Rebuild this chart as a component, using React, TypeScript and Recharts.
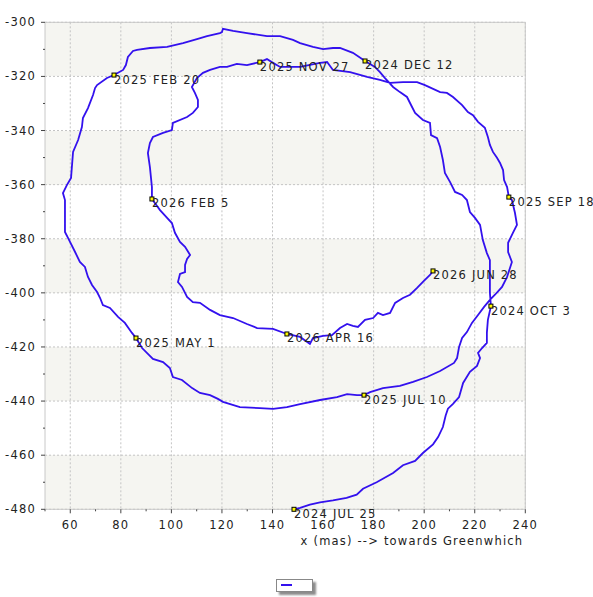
import React from "react";
import {
  CartesianGrid,
  ComposedChart,
  Line,
  ReferenceArea,
  Scatter,
  XAxis,
  YAxis,
} from "recharts";

type Pt = [number, number];

// pole track, one array per marked interval (x mas, -y mas)
const SEG_JUL25_OCT3: Pt[] = [
  [148.5, -480], [150.9, -479.5], [154.8, -478.3], [158.8, -477.4], [163.9, -476.7],
  [169.3, -475.8], [173.3, -474.6], [175.8, -472.4], [181.2, -470.0], [187.7, -466.6],
  [191.6, -463.7], [196.4, -462.1], [199.5, -459.2], [203.5, -456.0], [205.5, -453.3],
  [207.4, -449.6], [208.5, -445.3], [209.4, -442.8], [211.4, -441.0], [213.8, -438.5],
  [215.4, -433.3], [218.1, -429.2], [220.9, -427.0], [222.1, -424.1], [221.3, -422.2],
  [222.9, -420.4], [224.8, -418.5], [224.8, -414.8], [225.2, -410.0], [226.4, -404.9],
];

const SEG_OCT3_DEC12: Pt[] = [
  [226.0, -400.0], [226.0, -393.3], [226.0, -387.9], [224.8, -385.3], [223.2, -380.5],
  [222.1, -374.9], [220.1, -372.3], [218.1, -370.1], [216.9, -365.7], [215.0, -363.8],
  [212.2, -362.7], [210.2, -359.0], [208.2, -355.7], [207.4, -350.9], [206.3, -346.1],
  [205.1, -342.8], [202.7, -341.7], [202.3, -337.2], [199.5, -336.1], [196.4, -333.5],
  [195.2, -331.3], [193.2, -327.6], [190.4, -325.8], [187.7, -323.9], [184.5, -320.6],
  [182.5, -318.4], [180.5, -316.5], [176.6, -314.3],
];

const SEG_DEC12_FEB20: Pt[] = [
  [171.8, -311.3], [166.7, -309.5], [163.9, -309.5], [160.0, -309.9], [156.0, -309.1],
  [150.9, -307.7], [148.1, -306.5], [143.0, -305.1], [137.8, -305.1], [129.9, -304.0],
  [124.4, -303.2], [120.4, -302.4], [120.0, -303.6], [119.2, -304.0], [114.1, -305.1],
  [110.1, -306.2], [104.6, -307.7], [98.3, -309.1], [91.5, -309.5], [86.4, -310.2],
  [84.8, -310.6], [82.8, -312.8], [82.0, -315.8], [80.9, -317.6], [77.3, -319.5],
];

const SEG_FEB20_MAY1: Pt[] = [
  [74.5, -320.6], [70.6, -323.2], [69.8, -324.3], [69.0, -326.9], [67.0, -331.7],
  [65.0, -335.4], [64.6, -338.7], [63.1, -343.5], [61.1, -347.9], [60.3, -357.5],
  [58.7, -360.1], [57.1, -363.1], [57.9, -365.7], [57.9, -377.5], [59.1, -379.7],
  [61.9, -384.9], [63.8, -388.6], [65.8, -390.4], [67.0, -394.1], [68.6, -397.1],
  [70.6, -399.7], [71.8, -401.9], [72.9, -404.5], [75.7, -405.6], [78.9, -408.9],
  [81.6, -411.1], [84.4, -414.8], [86.0, -416.7],
];

const SEG_MAY1_JUL10: Pt[] = [
  [88.4, -420.4], [92.7, -424.4], [96.7, -425.6], [99.4, -427.8], [100.6, -431.1],
  [104.2, -432.2], [108.2, -435.2], [111.3, -437.0], [115.3, -437.8], [118.4, -439.2],
  [120.4, -440.3], [127.1, -442.2], [135.0, -442.6], [140.2, -442.9], [145.7, -442.2],
  [150.9, -441.1], [158.8, -439.6], [165.5, -438.5], [169.5, -437.4], [173.4, -437.8],
  [176.2, -437.8],
];

const SEG_JUL10_SEP18: Pt[] = [
  [178.6, -436.7], [183.7, -435.2], [190.4, -434.4], [195.6, -432.9], [201.1, -431.1],
  [206.3, -428.9], [211.8, -425.9], [213.0, -424.1], [213.8, -420.0], [215.0, -416.7],
  [216.9, -414.5], [218.9, -411.1], [221.3, -408.2], [223.7, -405.2], [226.0, -402.6],
  [228.0, -400.7], [230.8, -397.8], [232.8, -394.1], [234.7, -388.6], [233.2, -384.9],
  [233.2, -381.5], [235.1, -377.8], [236.7, -374.9], [235.9, -370.4], [234.7, -365.7],
  [233.5, -364.6],
];

const SEG_SEP18_NOV27: Pt[] = [
  [232.8, -360.9], [231.6, -358.3], [231.2, -354.6], [230.0, -352.0], [228.8, -350.1],
  [227.2, -347.9], [226.0, -345.3], [225.2, -342.4], [224.0, -339.0], [221.3, -336.8],
  [219.3, -334.3], [217.3, -333.2], [215.0, -330.6], [211.4, -327.6], [209.0, -326.1],
  [206.3, -325.8], [200.3, -323.2], [197.2, -322.1], [191.6, -322.1], [186.5, -322.4],
  [182.5, -321.3], [177.4, -320.2], [170.7, -318.4], [163.9, -317.6], [161.6, -314.7],
  [158.8, -315.0], [150.9, -316.5], [143.0, -316.5], [140.2, -315.0], [137.8, -313.6],
  [135.0, -314.7],
];

const SEG_NOV27_FEB5: Pt[] = [
  [129.9, -315.8], [125.9, -315.4], [122.0, -316.5], [119.2, -316.5], [115.3, -317.6],
  [112.5, -318.7], [110.1, -320.6], [108.1, -323.9], [109.3, -326.1], [110.5, -328.7],
  [110.5, -331.3], [108.5, -333.5], [106.2, -335.0], [100.6, -337.2], [100.2, -339.8],
  [96.7, -340.9], [92.7, -342.4], [91.5, -344.6], [90.7, -348.3], [91.5, -353.5],
  [92.3, -360.9], [92.3, -365.3],
];

const SEG_FEB5_APR16: Pt[] = [
  [95.5, -369.4], [98.3, -372.3], [100.2, -374.2], [101.4, -377.8], [103.4, -381.2],
  [105.4, -383.0], [107.4, -386.0], [106.2, -387.5], [105.4, -389.7], [105.4, -392.3],
  [103.4, -393.0], [102.6, -396.0], [104.2, -397.8], [106.2, -401.5], [108.5, -403.4],
  [111.3, -403.7], [115.3, -406.3], [119.2, -408.2], [124.4, -409.3], [129.9, -411.5],
  [133.9, -413.0], [140.2, -413.3], [145.7, -415.2],
];

const SEG_APR16_JUN28: Pt[] = [
  [150.9, -416.3], [154.8, -418.9], [156.0, -416.7], [160.0, -415.9], [163.5, -415.6],
  [166.7, -413.0], [169.5, -411.5], [171.8, -412.2], [173.8, -412.6], [176.6, -410.0],
  [179.8, -409.3], [181.7, -407.4], [183.7, -408.2], [186.5, -407.4], [188.5, -403.7],
  [191.6, -401.9], [194.4, -400.7], [197.2, -398.2], [199.5, -395.9], [202.3, -393.4],
  [203.5, -391.9],
];

const SEGMENTS = [
  SEG_JUL25_OCT3,
  SEG_OCT3_DEC12,
  SEG_DEC12_FEB20,
  SEG_FEB20_MAY1,
  SEG_MAY1_JUL10,
  SEG_JUL10_SEP18,
  SEG_SEP18_NOV27,
  SEG_NOV27_FEB5,
  SEG_FEB5_APR16,
  SEG_APR16_JUN28,
];

// first point of the track, then the end of every segment
const MARK_LABELS = [
  "2024 JUL 25",
  "2024 OCT 3",
  "2024 DEC 12",
  "2025 FEB 20",
  "2025 MAY 1",
  "2025 JUL 10",
  "2025 SEP 18",
  "2025 NOV 27",
  "2026 FEB 5",
  "2026 APR 16",
  "2026 JUN 28",
];

const X_DOMAIN: [number, number] = [50, 240];
const Y_DOMAIN: [number, number] = [-480, -300];
const X_TICKS = [50, 60, 70, 80, 90, 100, 110, 120, 130, 140, 150, 160, 170, 180, 190, 200, 210, 220, 230, 240];
const X_MAJOR = [60, 80, 100, 120, 140, 160, 180, 200, 220, 240];
const Y_TICKS = [-480, -470, -460, -450, -440, -430, -420, -410, -400, -390, -380, -370, -360, -350, -340, -330, -320, -310, -300];
const Y_MAJOR = [-480, -460, -440, -420, -400, -380, -360, -340, -320, -300];

const track = SEGMENTS.flat().map(([x, y]) => ({ x, y }));
const markers = [SEGMENTS[0][0], ...SEGMENTS.map((s) => s[s.length - 1])].map(
  ([x, y], i) => ({ x, y, label: MARK_LABELS[i] }),
);

const FONT = "DejaVu Sans";
const FS = 11.5;
const LS = 1.2;
const INK = "#222";
const TRACE = "#3311ee";
const TICK_SIZE = 4;
const X_MARGIN = 8;
const Y_MARGIN = 5;

function XTick(props: any) {
  const { x, y, payload } = props;
  const v = payload.value as number;
  const major = v % 20 === 0;
  const axisY = y - TICK_SIZE - X_MARGIN;
  return (
    <g>
      <line x1={x} x2={x} y1={axisY} y2={axisY + (major ? 4 : 2)} stroke="#444" />
      {major && (
        <text x={x} y={y} dy="0.71em" textAnchor="middle" fill={INK}
          fontFamily={FONT} fontSize={FS} letterSpacing={LS}>
          {v}
        </text>
      )}
    </g>
  );
}

function YTick(props: any) {
  const { x, y, payload } = props;
  const v = payload.value as number;
  const major = v % 20 === 0;
  const axisX = x + TICK_SIZE + Y_MARGIN;
  return (
    <g>
      <line x1={axisX - (major ? 4 : 2)} x2={axisX} y1={y} y2={y} stroke="#444" />
      {major && (
        <text x={x} y={y} dy="0.355em" textAnchor="end" fill={INK}
          fontFamily={FONT} fontSize={FS} letterSpacing={LS}>
          {v}
        </text>
      )}
    </g>
  );
}

function Marker(props: any) {
  const { cx, cy, payload } = props;
  return (
    <g>
      <rect x={cx - 2} y={cy - 2} width={4} height={4} fill="#ffff00" stroke="#000" strokeWidth={1} />
      <text x={cx} y={cy + 8.5} fill={INK} fontFamily={FONT} fontSize={FS} letterSpacing={LS}>
        {payload.label}
      </text>
    </g>
  );
}

function XLabel(props: any) {
  const vb = props.viewBox || {};
  return (
    <text x={vb.x + vb.width - 2} y={vb.y + 36} textAnchor="end" fill={INK}
      fontFamily={FONT} fontSize={FS} letterSpacing={LS}>
      x (mas) --&gt; towards Greenwhich
    </text>
  );
}

export default function App() {
  return (
    <div style={{ position: "absolute", left: 0, top: 0, width: 593, height: 597, overflow: "hidden", background: "#fff" }}>
      <div style={{ position: "absolute", left: 0, top: 3.5, width: 585, textAlign: "center",
        fontFamily: FONT, fontSize: FS, letterSpacing: LS, lineHeight: "14px", color: INK }}>
        pole coordinates (xp,-yp)
      </div>
      <ComposedChart width={593} height={597} margin={{ top: 22.3, right: 67.7, bottom: 57.7, left: 0 }}>
        <CartesianGrid
          stroke="#c4c4c4"
          strokeDasharray="2 2"
          verticalValues={X_MAJOR}
          horizontalValues={Y_MAJOR}
          horizontalFill={["#ffffff", "#f5f5f1"]}
        />
        <XAxis
          type="number"
          dataKey="x"
          domain={X_DOMAIN}
          ticks={X_TICKS}
          interval={0}
          tickSize={TICK_SIZE}
          tickMargin={X_MARGIN}
          tickLine={false}
          axisLine={false}
          tick={XTick}
          height={30}
          label={XLabel}
        />
        <YAxis
          type="number"
          dataKey="y"
          domain={Y_DOMAIN}
          ticks={Y_TICKS}
          interval={0}
          tickSize={TICK_SIZE}
          tickMargin={Y_MARGIN}
          tickLine={false}
          axisLine={false}
          tick={YTick}
          width={45}
        />
        <ReferenceArea x1={X_DOMAIN[0]} x2={X_DOMAIN[1]} y1={Y_DOMAIN[0]} y2={Y_DOMAIN[1]}
          fill="none" stroke="#c8c8c8" strokeWidth={1} />
        <Line
          data={track}
          dataKey="y"
          type="linear"
          stroke={TRACE}
          strokeWidth={1.8}
          dot={false}
          activeDot={false}
          isAnimationActive={false}
        />
        <Scatter data={markers} dataKey="y" shape={Marker} isAnimationActive={false} />
      </ComposedChart>
      <div style={{ position: "absolute", left: 276, top: 579, width: 35, height: 11,
        border: "1px solid #888", background: "#fff", boxShadow: "3px 3px 2px #8c8c8c" }}>
        <div style={{ position: "absolute", left: 4, top: 4, width: 11, height: 2, background: TRACE }} />
      </div>
    </div>
  );
}
